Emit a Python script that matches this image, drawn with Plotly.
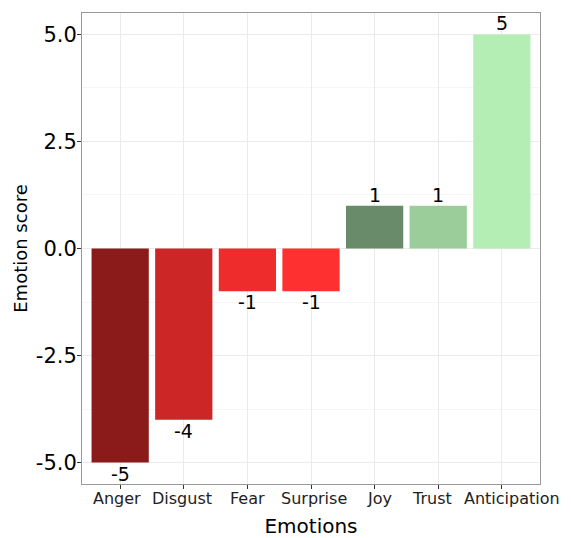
import plotly.graph_objects as go

emotions = ["Anger", "Disgust", "Fear", "Surprise", "Joy", "Trust", "Anticipation"]
scores = [-5, -4, -1, -1, 1, 1, 5]
colors = ["#8B1A1A", "#CD2626", "#EE2C2C", "#FF3030", "#698B69", "#9BCD9B", "#B4EEB4"]
y_ticks = [-5.0, -2.5, 0.0, 2.5, 5.0]
y_tick_labels = ["-5.0", "-2.5", "0.0", "2.5", "5.0"]
y_minor = [-3.75, -1.25, 1.25, 3.75]

# style: horizontal nudges (px) of the category labels as they appear in the reference
label_nudge = [-3, -2, 0, 3, 5, -6, 10]

font = "DejaVu Sans"
xs = list(range(len(emotions)))

fig = go.Figure()
fig.add_trace(go.Bar(
    x=xs, y=scores,
    marker=dict(color=colors, line=dict(width=0)),
    width=0.9,
    hoverinfo="skip",
))

for i, s in enumerate(scores):
    fig.add_annotation(
        x=i, y=s, xref="x", yref="y",
        text=str(s), showarrow=False,
        xanchor="center", yanchor="bottom" if s >= 0 else "top",
        yshift=-2 if s >= 0 else 2,
        font=dict(family=font, size=19, color="black"),
    )

for i, name in enumerate(emotions):
    fig.add_annotation(
        x=i, y=0, xref="x", yref="paper",
        text=name, showarrow=False,
        xanchor="center", yanchor="top",
        yshift=-3, xshift=label_nudge[i],
        font=dict(family=font, size=16, color="#222"),
    )

fig.update_layout(
    width=563, height=530,
    margin=dict(l=74, r=31, t=5, b=54, autoexpand=False),
    paper_bgcolor="white", plot_bgcolor="white",
    font=dict(family=font, color="black"),
    showlegend=False,
)
fig.update_xaxes(
    range=[-0.6, 6.6],
    tickvals=xs, ticktext=emotions,
    showticklabels=False,
    automargin=False,
    showgrid=True, gridcolor="#EBEBEB", gridwidth=1,
    ticks="outside", ticklen=4, tickcolor="#333", tickwidth=1,
    showline=True, linecolor="#999", linewidth=1, mirror=True,
    zeroline=False,
    title=dict(text="Emotions", font=dict(size=20, color="black"), standoff=30),
)
fig.update_yaxes(
    range=[-5.5, 5.5],
    tickvals=y_ticks, ticktext=y_tick_labels,
    tickfont=dict(size=21, color="black"),
    ticklabelstandoff=-4,
    automargin=False,
    showgrid=True, gridcolor="#EBEBEB", gridwidth=1,
    minor=dict(tickvals=y_minor, showgrid=True, gridcolor="#F5F5F5", gridwidth=1, ticks=""),
    ticks="outside", ticklen=4, tickcolor="#333", tickwidth=1,
    showline=True, linecolor="#999", linewidth=1, mirror=True,
    zeroline=False,
    title=dict(text="Emotion score", font=dict(size=18, color="black"), standoff=3),
)

fig.write_html("out.html")
